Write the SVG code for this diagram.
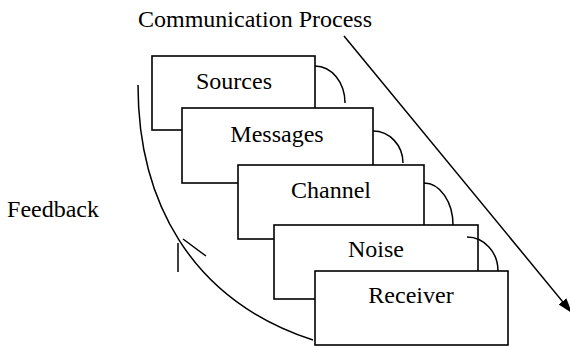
<svg xmlns="http://www.w3.org/2000/svg" width="570" height="347" viewBox="0 0 570 347">
  <style>
    .box { fill: #fff; stroke: #000; stroke-width: 1.6; }
    .lbl { font-family: "Liberation Serif", "Times New Roman", serif; font-size: 24px; fill: #000; }
    .mid { text-anchor: middle; }
    .ln { fill: none; stroke: #000; stroke-width: 1.5; }
  </style>
  <defs>
    <marker id="head" markerUnits="userSpaceOnUse" markerWidth="16" markerHeight="12" refX="15" refY="5" orient="auto">
      <path d="M0,0 L15,5 L0,10 z" fill="#000"/>
    </marker>
  </defs>

  <text class="lbl" x="138" y="27">Communication Process</text>
  <text class="lbl" x="99" y="217" text-anchor="end">Feedback</text>

  <!-- feedback loop and process direction -->
  <g id="connectors">
    <path class="ln" d="M138,85 C138,200 190,300 313,340"/>
    <path class="ln" d="M178,243 L178,272 M183,239 L206,256"/>
    <line class="ln" x1="344" y1="36" x2="572" y2="313" marker-end="url(#head)"/>
  </g>

  <g id="sources">
    <rect class="box" x="152" y="56" width="163" height="74"/>
    <text class="lbl mid" x="234" y="89">Sources</text>
    <path class="ln" d="M315,66 A30,37 0 0 1 345,103"/>
  </g>
  <g id="messages">
    <rect class="box" x="182" y="108" width="191" height="75"/>
    <text class="lbl mid" x="277" y="142">Messages</text>
    <path class="ln" d="M373,131 A30,32 0 0 1 403,163"/>
  </g>
  <g id="channel">
    <rect class="box" x="238" y="165" width="186" height="74"/>
    <text class="lbl mid" x="331" y="198">Channel</text>
    <path class="ln" d="M424,183 A29,42 0 0 1 453,225"/>
  </g>
  <g id="noise">
    <rect class="box" x="274" y="225" width="204" height="74"/>
    <text class="lbl mid" x="376" y="257">Noise</text>
    <path class="ln" d="M467,237 A31,34 0 0 1 498,271"/>
  </g>
  <g id="receiver">
    <rect class="box" x="315" y="271" width="193" height="74"/>
    <text class="lbl mid" x="411" y="303">Receiver</text>
  </g>
</svg>
